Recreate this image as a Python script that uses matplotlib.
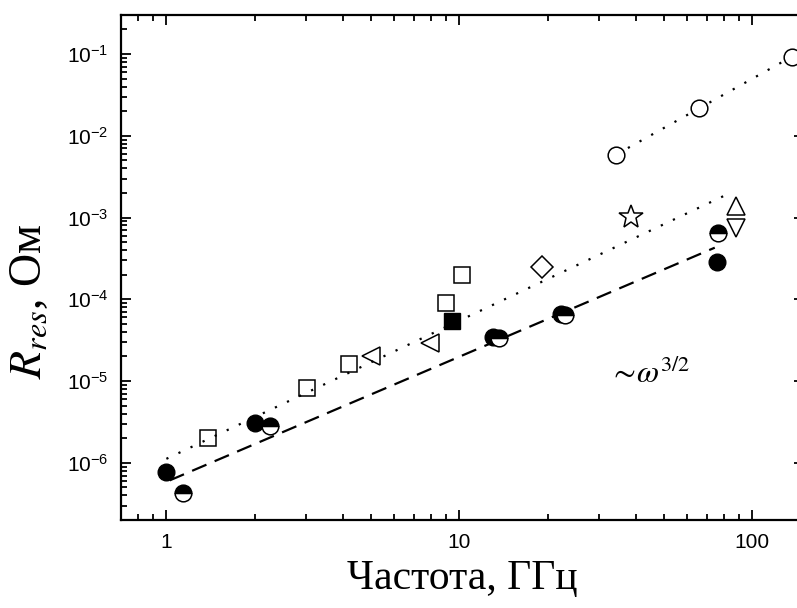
import matplotlib
matplotlib.use('Agg')
import matplotlib.pyplot as plt

plt.rcParams['font.family'] = 'Liberation Sans'
plt.rcParams['mathtext.fontset'] = 'stix'

# values: frequency (GHz) and R_res (Ohm)
fullX = [1.0, 2.0, 13.0, 22.3, 76.0]
fullY = [7.7e-7, 3.1e-6, 3.5e-5, 6.6e-5, 2.9e-4]
halfX = [1.14, 2.25, 13.6, 22.9, 76.2]
halfY = [4.3e-7, 2.8e-6, 3.35e-5, 6.4e-5, 6.5e-4]
sqX = [1.39, 3.01, 4.19, 9.03, 10.2]
sqY = [2.0e-6, 8.2e-6, 1.6e-5, 9.1e-5, 2.0e-4]
fsqX = [9.41]
fsqY = [5.5e-5]
ltriX = [4.98, 7.92]
ltriY = [2.0e-5, 2.96e-5]
diaX = [19.2]
diaY = [2.5e-4]
starX = [38.6]
starY = [1.02e-3]
utriX = [87.7]
utriY = [1.38e-3]
dtriX = [87.7]
dtriY = [7.4e-4]
circX = [34.3, 65.7, 136.5]
circY = [5.9e-3, 2.16e-2, 0.093]

# guide lines (end points)
topLineX = [34.3, 136.5]
topLineY = [5.9e-3, 0.093]
midLineX = [1.0, 85.0]
midLineY = [1.12e-6, 2.04e-3]
dashLineX = [1.026, 74.4]
dashLineY = [6.1e-7, 4.28e-4]

fig = plt.figure(figsize=(7.97, 6.08), dpi=100)
ax = fig.add_axes([121/797, 88/608, 683/797, 505/608])

ax.plot(topLineX, topLineY, color='black', lw=1.6, ls=(0, (1, 5)))
ax.plot(midLineX, midLineY, color='black', lw=1.6, ls=(0, (1, 5)))
ax.plot(dashLineX, dashLineY, color='black', lw=1.6, ls=(0, (7, 4)))

ow = dict(ls='none', color='black', mfc='none', mew=1.1)
ax.plot(fullX, fullY, 'o', ls='none', color='black', ms=12)
ax.plot(halfX, halfY, 'o', ls='none', color='black', ms=12, fillstyle='top',
        mfc='black', mfcalt='white', mec='black', mew=1.1)
ax.plot(sqX, sqY, 's', ms=11.5, **ow)
ax.plot(fsqX, fsqY, 's', ls='none', color='black', ms=11.5)
ax.plot(ltriX, ltriY, '<', ms=13, **ow)
ax.plot(diaX, diaY, 'D', ms=11, **ow)
ax.plot(starX, starY, '*', ms=18, **ow)
ax.plot(utriX, utriY, '^', ms=12.5, **ow)
ax.plot(dtriX, dtriY, 'v', ms=12.5, **ow)
ax.plot(circX, circY, 'o', ls='none', color='black', mfc='white', mew=1.1, ms=12)

ax.text(44.6, 1.2e-5, r'$\sim\!\omega^{\mathit{3/2}}$', fontsize=23, ha='center', va='center')

ax.set_xscale('log')
ax.set_yscale('log')
ax.set_xlim(0.7, 150)
ax.set_ylim(2e-7, 0.3)
ax.set_yticks([1e-6, 1e-5, 1e-4, 1e-3, 1e-2, 1e-1])
ax.set_xticks([1, 10, 100])
ax.set_xticklabels(['1', '10', '100'])

ax.tick_params(which='both', direction='in', top=True, right=True, width=1.3)
ax.tick_params(which='major', length=7.5, labelsize=15, pad=9)
ax.tick_params(which='minor', length=4)
for sp in ax.spines.values():
    sp.set_linewidth(1.6)

ax.set_xlabel('Частота, ГГц', fontsize=30, fontfamily='Liberation Serif', labelpad=6)
ax.set_ylabel(r'$R_{res}$, Ом', fontsize=33, fontfamily='Liberation Serif')
ax.yaxis.set_label_coords(-0.102, 0.434)

fig.savefig('out.png', dpi=100)
